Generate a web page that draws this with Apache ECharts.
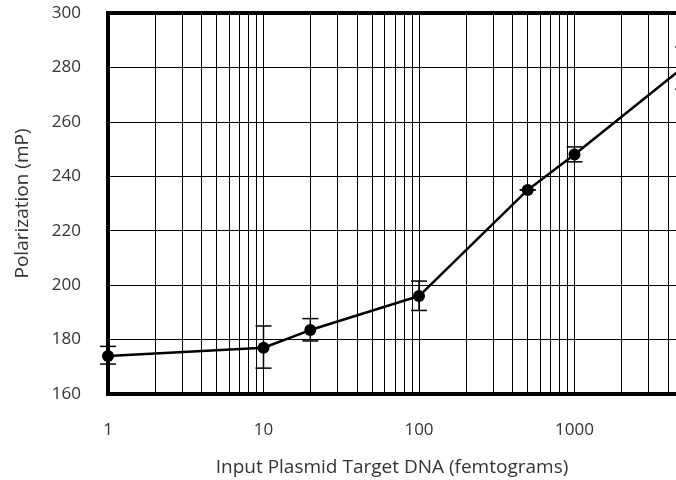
<!DOCTYPE html>
<html>
<head>
<meta charset="utf-8">
<script src="https://cdn.jsdelivr.net/npm/echarts@6/dist/echarts.min.js"></script>
<style>html,body{margin:0;padding:0;background:#fff}#c{width:676px;height:480px}</style>
</head>
<body>
<div id="c"></div>
<script>
// Data
var xValues = [1, 10, 20, 100, 500, 1000, 5000];
var yValues = [174, 177, 183.5, 196, 235, 248, 280];
var yUpper  = [177.5, 185, 187.7, 201.5, 235, 250.8, 287.5];
var yLower  = [171, 169.5, 179.5, 190.7, 235, 245.3, 272];
var minorGridX = [2,3,4,5,6,7,8,9,20,30,40,50,60,70,80,90,200,300,400,500,600,700,800,900,2000,3000,4000,5000,6000,7000,8000,9000];
var xTickLabels = ['1', '10', '100', '1000', '10000'];
var xTitle = 'Input Plasmid Target DNA (femtograms)';
var yTitle = 'Polarization (mP)';

var font = 'Open Sans';
var textColor = '#333';

var lineData = xValues.map(function (x, i) { return [x, yValues[i]]; });
var errData = xValues.map(function (x, i) { return [x, yLower[i], yUpper[i]]; });

var chart = echarts.init(document.getElementById('c'), null, {renderer: 'canvas'});
chart.setOption({
  animation: false,
  backgroundColor: '#fff',
  grid: {
    left: 108, top: 13, width: 622, height: 381,
    containLabel: false, outerBoundsMode: 'none',
    show: true, borderColor: '#000', borderWidth: 4, backgroundColor: 'transparent'
  },
  xAxis: {
    type: 'log', logBase: 10, min: 1, max: 10000,
    name: xTitle, nameLocation: 'middle', nameGap: 64,
    nameTextStyle: {fontFamily: font, fontSize: 19, color: textColor, padding: [0, 54, 0, 0]},
    axisLine: {show: false},
    axisTick: {show: false},
    axisLabel: {
      margin: 28, fontFamily: font, fontSize: 17, color: textColor,
      formatter: function (v) {
        var idx = Math.round(Math.log10(v));
        return xTickLabels[idx] !== undefined ? xTickLabels[idx] : '';
      }
    },
    splitLine: {show: true, lineStyle: {color: '#000', width: 1}}
  },
  yAxis: {
    type: 'value', min: 160, max: 300, interval: 20,
    name: yTitle, nameLocation: 'middle', nameGap: 76, nameRotate: 90,
    nameTextStyle: {fontFamily: font, fontSize: 19, color: textColor},
    axisLine: {show: false},
    axisTick: {show: false},
    axisLabel: {margin: 27, fontFamily: font, fontSize: 17, color: textColor},
    splitLine: {show: true, lineStyle: {color: '#000', width: 1}}
  },
  series: [
    {
      type: 'line', data: [], z: 1, silent: true,
      markLine: {
        silent: true, symbol: 'none', animation: false,
        label: {show: false},
        lineStyle: {color: '#000', width: 1, type: 'solid'},
        emphasis: {disabled: true},
        data: minorGridX.map(function (v) { return {xAxis: v}; })
      }
    },
    {
      type: 'custom', z: 3, silent: true,
      data: errData,
      renderItem: function (params, api) {
        var x = api.value(0);
        var lo = api.coord([x, api.value(1)]);
        var hi = api.coord([x, api.value(2)]);
        var hw = 8;
        var style = {stroke: '#000', lineWidth: 1.5, fill: null};
        return {
          type: 'group',
          children: [
            {type: 'line', shape: {x1: lo[0], y1: lo[1], x2: hi[0], y2: hi[1]}, style: style},
            {type: 'line', shape: {x1: lo[0] - hw, y1: lo[1], x2: lo[0] + hw, y2: lo[1]}, style: style},
            {type: 'line', shape: {x1: hi[0] - hw, y1: hi[1], x2: hi[0] + hw, y2: hi[1]}, style: style}
          ]
        };
      }
    },
    {
      type: 'line', z: 4, data: lineData,
      symbol: 'circle', symbolSize: 12,
      lineStyle: {color: '#000', width: 2.5},
      itemStyle: {color: '#000'},
      clip: true
    }
  ]
});
</script>
</body>
</html>
